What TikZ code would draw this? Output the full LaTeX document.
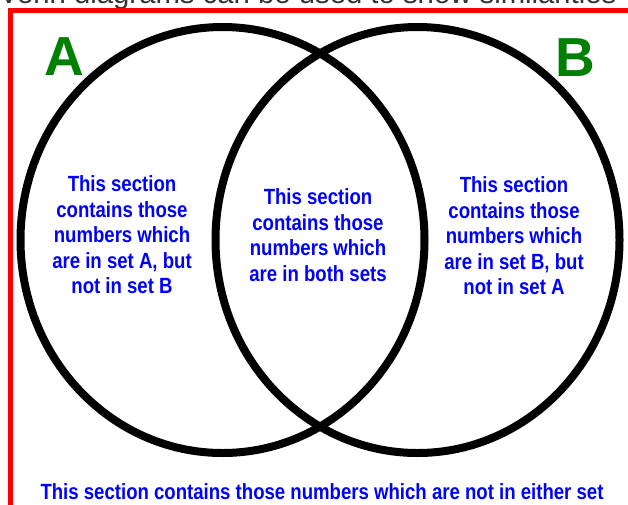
\documentclass[tikz,border=0pt]{standalone}
\usepackage{fontspec}
\setmainfont{Liberation Sans}
\newfontfamily\pixfont{Liberation Sans}[FakeStretch=0.845]
\definecolor{vblue}{RGB}{0,0,255}
\definecolor{vgreen}{RGB}{0,128,0}
\definecolor{vred}{RGB}{255,0,0}
\begin{document}
\begin{tikzpicture}[x=1pt,y=-1pt,
  setline/.style={line width=8pt, draw=black},
  sectiontext/.style={font=\pixfont\bfseries\fontsize{22}{25.5}\selectfont, text=vblue, align=center, inner sep=0pt},
  setlabel/.style={font=\bfseries\fontsize{55}{60}\selectfont, text=vgreen, inner sep=0pt, anchor=base}]
\useasboundingbox (0,0) rectangle (628,504);
\clip (0,0) rectangle (628,504);
\fill[white] (0,0) rectangle (628,504);
\node[anchor=base west, inner sep=0pt, font=\fontsize{29.3}{31}\selectfont, text=black!80] (title) at (-1,3) {Venn diagrams can be used to show similarities};
\draw[vred, line width=5pt] (10,10.5) rectangle (660,540);
\draw[setline] (222.5,240) ellipse [x radius=202, y radius=213];
\draw[setline] (417.5,240) ellipse [x radius=202, y radius=213];
\node[setlabel] (A) at (64,75) {A};
\node[setlabel] (B) at (575.5,76) {B};
\node[sectiontext] (onlyA) at (122,235) {This section\\contains those\\numbers which\\are in set A, but\\not in set B};
\node[sectiontext] (both) at (318,235) {This section\\contains those\\numbers which\\are in both sets};
\node[sectiontext] (onlyB) at (514,236) {This section\\contains those\\numbers which\\are in set B, but\\not in set A};
\node[sectiontext, anchor=base] (neither) at (322,499) {This section contains those numbers which are not in either set};
\end{tikzpicture}
\end{document}
